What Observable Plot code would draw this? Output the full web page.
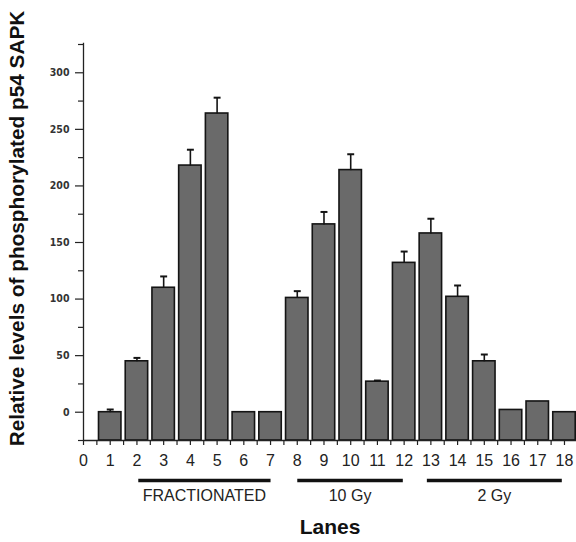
<!DOCTYPE html>
<html>
<head>
<meta charset="utf-8">
<script src="https://cdn.jsdelivr.net/npm/d3@7"></script>
<script src="https://cdn.jsdelivr.net/npm/@observablehq/plot@0.6"></script>
<style>
  html, body { margin: 0; padding: 0; background: #fff; }
  #chart svg { display: block; }
</style>
</head>
<body>
<div id="chart"></div>
<script>
// Data
const lanes = [1, 2, 3, 4, 5, 6, 7, 8, 9, 10, 11, 12, 13, 14, 15, 16, 17, 18];
const values = [0, 45, 110, 218, 264, 0, 0, 101, 166, 214, 27, 132, 158, 102, 45, 2, 9.5, 0];
const errTops = [2.4, 48, 120, 232, 278, null, null, 107, 177, 228, 28, 142, 171, 112, 51, null, null, null];
const xTickLabels = [0, 1, 2, 3, 4, 5, 6, 7, 8, 9, 10, 11, 12, 13, 14, 15, 16, 17, 18];
const yTickLabels = [0, 50, 100, 150, 200, 250, 300];
const groupNames = ["FRACTIONATED", "10 Gy", "2 Gy"];
const groupStart = [2.05, 8.0, 12.85];
const groupEnd = [7.0, 11.95, 17.9];

const data = lanes.map((lane, i) => ({lane, value: values[i], err: errTops[i]}));
const errData = data.filter(d => d.err != null);
const groups = groupNames.map((name, i) => ({name, x1: groupStart[i], x2: groupEnd[i]}));
const minorX = d3.range(0, 18.5, 0.5);
const minorY = d3.range(-25, 326, 25).filter(v => v % 50 !== 0);

const W = 0.42;
const font = "'Liberation Sans', Arial, sans-serif";

const chart = Plot.plot({
  width: 576,
  height: 542,
  marginLeft: 83,
  marginRight: 0,
  marginTop: 44,
  marginBottom: 102,
  x: {type: "linear", domain: [0, 18.45], axis: null},
  y: {type: "linear", domain: [-25, 325], axis: null},
  style: {fontFamily: font, background: "#fff", overflow: "visible"},
  marks: [
    // bars
    Plot.rectY(data, {
      x1: d => d.lane - W, x2: d => d.lane + W,
      y1: -25, y2: "value",
      fill: "#6a6a6a", stroke: "#141414", strokeWidth: 1.6
    }),
    // error bars
    Plot.link(errData, {x1: "lane", x2: "lane", y1: "value", y2: "err", stroke: "#141414", strokeWidth: 1.6}),
    Plot.link(errData, {x1: d => d.lane - 0.13, x2: d => d.lane + 0.13, y1: "err", y2: "err", stroke: "#141414", strokeWidth: 2}),
    // axis lines
    Plot.ruleX([0], {y1: -25, y2: 326, stroke: "#222", strokeWidth: 1.3}),
    Plot.ruleY([-25], {x1: 0, x2: 18.45, stroke: "#222", strokeWidth: 1.3}),
    // x ticks
    Plot.ruleX(minorX, {x: d => d, y1: -25, y2: -25, insetBottom: -5, stroke: "#222", strokeWidth: 1.2}),
    // y ticks (major and minor)
    Plot.ruleY(yTickLabels, {y: d => d, x1: 0, x2: 0, insetLeft: -8, stroke: "#222", strokeWidth: 1.2}),
    Plot.ruleY(minorY, {y: d => d, x1: 0, x2: 0, insetLeft: -5, stroke: "#222", strokeWidth: 1.2}),
    // y tick labels
    Plot.text(yTickLabels, {
      x: 0, y: d => d, text: d => String(d), dx: -14, textAnchor: "end",
      fontSize: 10.5, fontWeight: "bold", fill: "#333", letterSpacing: 1.2,
      fontFamily: "'DejaVu Sans Condensed', sans-serif"
    }),
    // x tick labels
    Plot.text(xTickLabels, {
      x: d => d, y: -25, text: d => String(d), dy: 20, lineAnchor: "middle",
      fontSize: 16, fill: "#222"
    }),
    // group bars and labels
    Plot.link(groups, {x1: "x1", x2: "x2", y1: -25, y2: -25, dy: 40, stroke: "#111", strokeWidth: 3.5}),
    Plot.text(groups, {
      x: d => (d.x1 + d.x2) / 2, y: -25, text: "name", dy: 55, lineAnchor: "middle",
      fontSize: 16, fill: "#222", letterSpacing: 0.8
    }),
    // axis titles
    Plot.text(["Lanes"], {
      frameAnchor: "bottom", dy: 87, lineAnchor: "middle",
      fontSize: 21, fontWeight: "bold", fill: "#111"
    }),
    Plot.text(["Relative levels of phosphorylated p54 SAPK"], {
      frameAnchor: "left", dx: -66, dy: -14, rotate: -90, lineAnchor: "middle", textAnchor: "middle",
      fontSize: 20.8, fontWeight: "bold", fill: "#111"
    })
  ]
});

document.getElementById("chart").appendChild(chart);
</script>
</body>
</html>
